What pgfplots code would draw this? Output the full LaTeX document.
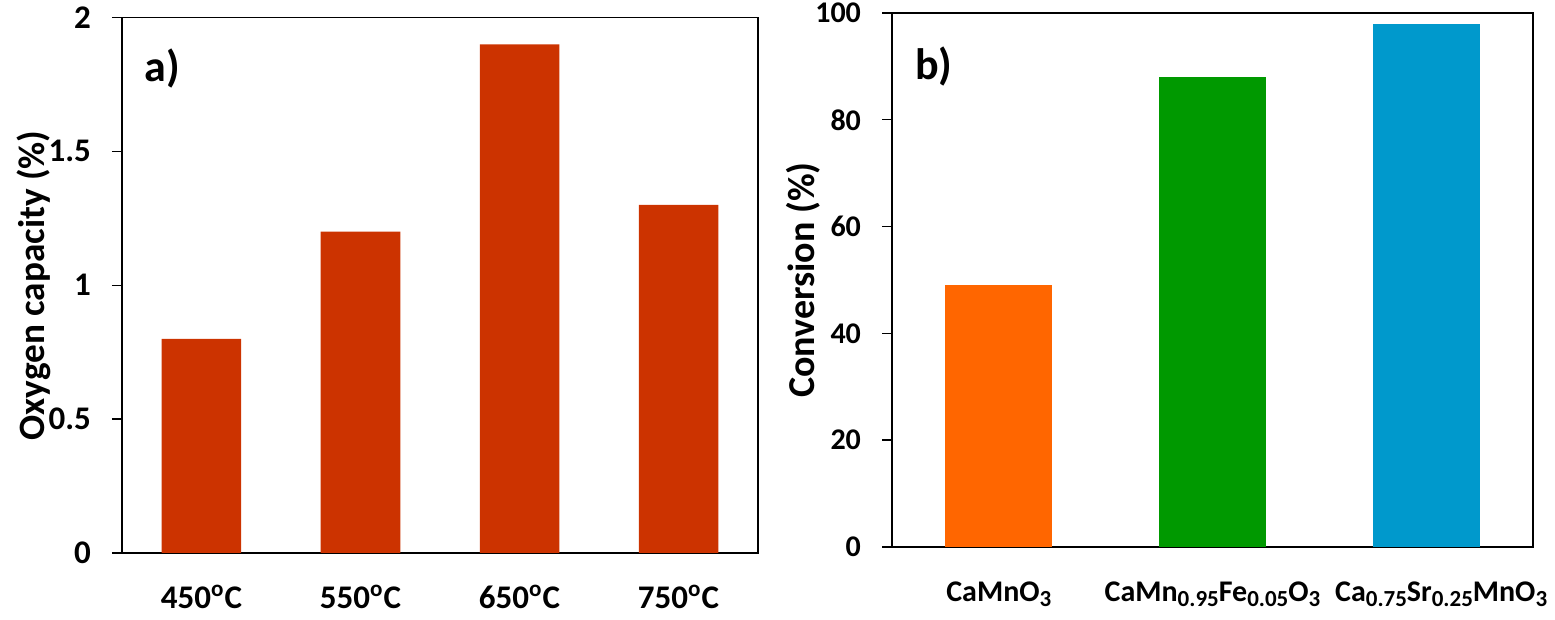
\documentclass[border=0pt]{standalone}
\usepackage{fontspec}
\setmainfont{Carlito}
\usepackage{pgfplots}
\pgfplotsset{compat=1.18}
\definecolor{redbar}{HTML}{CC3300}
\definecolor{orangebar}{HTML}{FF6600}
\definecolor{greenbar}{HTML}{009900}
\definecolor{bluebar}{HTML}{0099CC}
\newcommand{\sub}[1]{\raisebox{-2.2pt}{\fontsize{11.5}{13}\selectfont #1}}
\pgfplotsset{
  panel/.style={
    scale only axis,
    anchor=south west,
    axis line style={black, line width=0.7pt},
    ybar, bar width=0.5, bar shift=0pt,
    ymin=0,
    tick align=outside,
    ytick pos=left,
    major tick length=5pt,
    every tick/.style={black, line width=0.7pt},
    x tick style={draw=none},
    /pgf/number format/assume math mode=true,
    xticklabel style={yshift=-10pt},
    yticklabel style={xshift=-7pt},
  },
}
\begin{document}
\begin{tikzpicture}
\useasboundingbox (0,0) rectangle (777.5pt,310pt);
\begin{axis}[panel,
  at={(61pt,33.5pt)}, width=318pt, height=267.75pt,
  xmin=-0.5, xmax=3.5, ymax=2,
  xtick={0,1,2,3},
  ytick={0,0.5,1,1.5,2},
  yticklabels={0,0.5,1,1.5,2},
  xticklabels={450\textsuperscript{o}C,550\textsuperscript{o}C,650\textsuperscript{o}C,750\textsuperscript{o}C},
  tick label style={font=\fontsize{16.5}{19}\selectfont\bfseries},
  xticklabel style={yshift=2.5pt},
  ylabel={Oxygen capacity (\%)},
  ylabel style={font=\fontsize{18.6}{22}\selectfont\bfseries, yshift=-8pt},
]
\addplot[fill=redbar, draw=none] coordinates {(0,0.8) (1,1.2) (2,1.9) (3,1.3)};
\node[anchor=west, font=\fontsize{22}{26}\selectfont\bfseries] at (rel axis cs:0.025,0.905) {a)};
\end{axis}
\begin{axis}[panel,
  at={(446pt,36.5pt)}, width=320.5pt, height=267pt,
  xmin=-0.5, xmax=2.5, ymax=100,
  xtick={0,1,2},
  ytick={0,20,40,60,80,100},
  xticklabels={CaMnO\sub{3},CaMn\sub{0.95}Fe\sub{0.05}O\sub{3},\hspace*{15pt}Ca\sub{0.75}Sr\sub{0.25}MnO\sub{3}},
  tick label style={font=\fontsize{15}{18}\selectfont\bfseries},
  xticklabel style={yshift=1pt},
  yticklabel style={font=\fontsize{15}{18}\selectfont\bfseries},
  ylabel={Conversion (\%)},
  ylabel style={font=\fontsize{19}{22}\selectfont\bfseries, yshift=-9.5pt},
]
\addplot[fill=orangebar, draw=none] coordinates {(0,49)};
\addplot[fill=greenbar, draw=none] coordinates {(1,88)};
\addplot[fill=bluebar, draw=none] coordinates {(2,98)};
\node[anchor=west, font=\fontsize{22}{26}\selectfont\bfseries] at (rel axis cs:0.025,0.9) {b)};
\end{axis}
\end{tikzpicture}
\end{document}
